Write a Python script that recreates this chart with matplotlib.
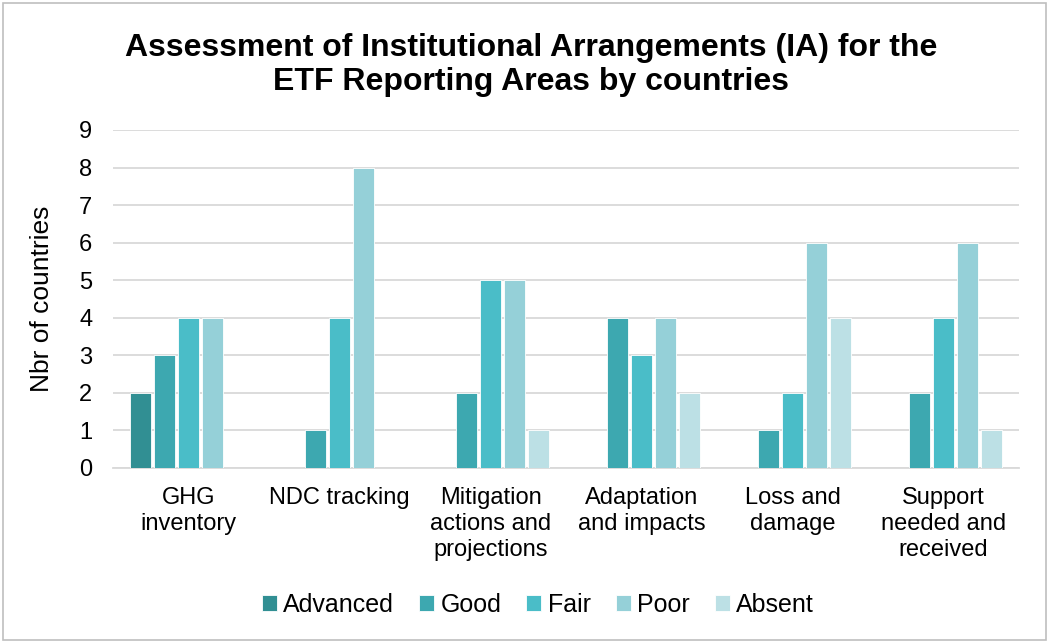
import numpy as np
import matplotlib.pyplot as plt
from matplotlib.patches import Rectangle

plt.rcParams['font.family'] = ['Liberation Sans', 'DejaVu Sans']

# data
categories = ['GHG\ninventory', 'NDC tracking', 'Mitigation\nactions and\nprojections',
              'Adaptation\nand impacts', 'Loss and\ndamage', 'Support\nneeded and\nreceived']
levels = ['Advanced', 'Good', 'Fair', 'Poor', 'Absent']
advanced = [2, 0, 0, 0, 0, 0]
good = [3, 1, 2, 4, 1, 2]
fair = [4, 4, 5, 3, 2, 4]
poor = [4, 8, 5, 4, 6, 6]
absent = [0, 0, 1, 2, 4, 1]
colors = ['#318F93', '#3DA8B0', '#4ABDC8', '#95D0D8', '#BCE0E5']

series = [advanced, good, fair, poor, absent]

fig = plt.figure(figsize=(10.51, 6.42), dpi=100)
ax = fig.add_axes([113/1051, 1-468/642, 906/1051, 338/642])

x = np.arange(len(categories))
w = 0.159
for i, (vals, lab, c) in enumerate(zip(series, levels, colors)):
    ax.bar(x + (i-2)*w, vals, width=w*0.86, color=c, label=lab,
           edgecolor='white', linewidth=0.6, zorder=3)

ax.set_xlim(-0.5, len(categories)-0.5)
ax.set_ylim(0, 9)
ax.set_yticks(range(10))
ax.yaxis.grid(True, color='#D9D9D9', linewidth=1.3, zorder=0)
ax.tick_params(axis='y', length=0, labelsize=17, pad=15)
ax.tick_params(axis='x', length=0, labelsize=17, pad=14)
ax.set_xticks(x)
ax.set_xticklabels(categories, linespacing=1.22, va='top')
for s in ['top', 'right', 'left']:
    ax.spines[s].set_visible(False)
ax.spines['bottom'].set_color('#D9D9D9')
ax.spines['bottom'].set_linewidth(1.3)
ax.set_ylabel('Nbr of countries', fontsize=19, labelpad=18)

fig.text(0.505, 1-65/642, 'Assessment of Institutional Arrangements (IA) for the\nETF Reporting Areas by countries',
         ha='center', va='center', fontsize=23, fontweight='bold', linespacing=1.2)

ax.legend(loc='center', bbox_to_anchor=(0.469, (468-605)/338), ncol=5, frameon=False,
          fontsize=18, handlelength=0.6, handleheight=0.6, handletextpad=0.25,
          columnspacing=1.0)

fig.patches.append(Rectangle((3/1051, 2/642), 1-8/1051, 1-5/642, transform=fig.transFigure,
                             fill=False, edgecolor='#BFBFBF', linewidth=1.2))

fig.savefig('out.png', dpi=100)
